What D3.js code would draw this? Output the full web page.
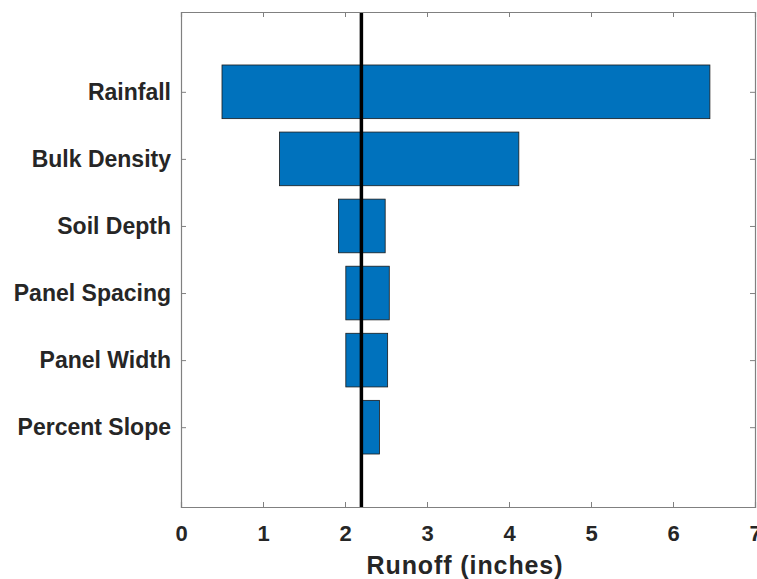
<!DOCTYPE html>
<html><head><meta charset="utf-8">
<script src="https://cdn.jsdelivr.net/npm/d3@7"></script>
<style>
html,body{margin:0;padding:0;background:#fff;}
text{font-family:"Liberation Sans",Arial,Helvetica,sans-serif;font-weight:bold;fill:#262626;}
</style></head>
<body>
<script>
const categories = ["Rainfall","Bulk Density","Soil Depth","Panel Spacing","Panel Width","Percent Slope"];
const lowValues  = [0.5, 1.2, 1.92, 2.01, 2.01, 2.2];
const highValues = [6.45, 4.12, 2.49, 2.54, 2.52, 2.42];
const baseValue = 2.2;
const xTicks = [0,1,2,3,4,5,6,7];
const xLabel = "Runoff (inches)";

const W = 757, H = 579;
const m = {left:181, top:12, right:2, bottom:72};
const pw = W - m.left - m.right, ph = H - m.top - m.bottom;

const svg = d3.select("body").append("svg").attr("width",W).attr("height",H);
const g = svg.append("g").attr("transform",`translate(${m.left},${m.top})`);

const x = d3.scaleLinear().domain([0,7]).range([0,pw]);
const y = d3.scaleLinear().domain([-0.19,7.19]).range([0,ph]);
const bh = y(0.8) - y(0);

// bars
g.selectAll("rect.bar").data(categories).enter().append("rect")
  .attr("class","bar")
  .attr("x",(d,i)=>x(lowValues[i]))
  .attr("width",(d,i)=>x(highValues[i])-x(lowValues[i]))
  .attr("y",(d,i)=>y(i+1)-bh/2)
  .attr("height",bh)
  .attr("fill","#0072BD")
  .attr("stroke","#1a1a1a").attr("stroke-width",0.8);

// baseline vertical
g.append("line").attr("x1",x(baseValue)).attr("x2",x(baseValue))
  .attr("y1",0).attr("y2",ph).attr("stroke","#000").attr("stroke-width",3.5);

const axisColor = "#808080";
// axes
const xb = g.append("g").attr("transform",`translate(0,${ph})`)
  .call(d3.axisBottom(x).tickValues(xTicks).tickSize(-5).tickPadding(18).tickFormat(d3.format("d")));
const xt = g.append("g")
  .call(d3.axisTop(x).tickValues(xTicks).tickSize(-5).tickFormat(""));
const yl = g.append("g")
  .call(d3.axisLeft(y).tickValues(d3.range(1,7)).tickSize(-5).tickPadding(10).tickFormat(d=>categories[d-1]));
const yr = g.append("g").attr("transform",`translate(${pw},0)`)
  .call(d3.axisRight(y).tickValues(d3.range(1,7)).tickSize(-5).tickFormat(""));

[xb,xt,yl,yr].forEach(a=>{
  a.select(".domain").attr("stroke",axisColor).attr("stroke-width",1.2);
  a.selectAll(".tick line").attr("stroke",axisColor).attr("stroke-width",1);
});
xb.selectAll(".tick text").style("font-size","22px").attr("fill","#262626")
  .style("font-family","'Liberation Sans',Arial,sans-serif").style("font-weight","bold");
yl.selectAll(".tick text").style("font-size","23px").attr("fill","#262626")
  .style("font-family","'Liberation Sans',Arial,sans-serif").style("font-weight","bold");

svg.append("text").attr("x",m.left+x(3.5)-3).attr("y",574)
  .attr("text-anchor","middle").style("font-size","25px").style("letter-spacing","0.9px").text(xLabel);
</script>
</body></html>
